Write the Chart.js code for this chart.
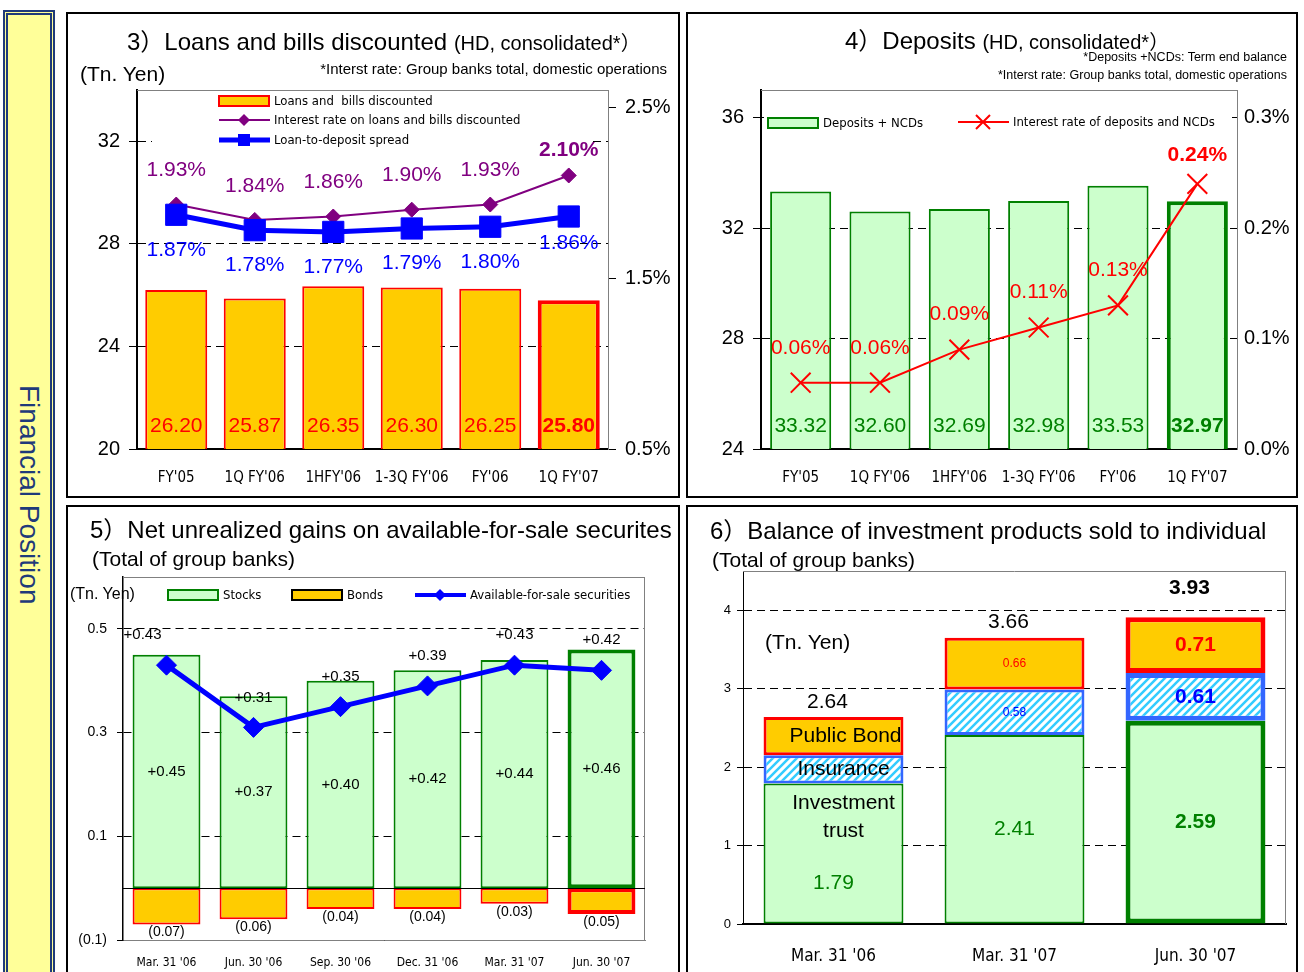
<!DOCTYPE html>
<html>
<head>
<meta charset="utf-8">
<script src="https://cdn.jsdelivr.net/npm/chart.js@4.4.0/dist/chart.umd.min.js"></script>
<style>
body { margin:0; width:1304px; height:972px; overflow:hidden; background:#fff; position:relative;
       font-family:'Liberation Sans','Noto Sans CJK JP',sans-serif; color:#000; }
.abs { position:absolute; white-space:nowrap; line-height:1; z-index:2; }
.panel { position:absolute; border:2px solid #000; box-sizing:border-box; }
canvas { position:absolute; z-index:1; }
#side { position:absolute; left:3px; top:10px; width:52px; height:970px; box-sizing:border-box;
        background:#FFFF99; border:5px double #1F3A7A; display:flex; align-items:center; justify-content:center; }
#side span { writing-mode:vertical-rl; font-size:28px; color:#1F3A7A; }
</style>
</head>
<body>
<div id="side"><span>Financial Position</span></div>

<div class="panel" style="left:66px;top:12px;width:614px;height:486px"></div>
<div class="panel" style="left:686px;top:12px;width:612px;height:486px"></div>
<div class="panel" style="left:66px;top:505px;width:614px;height:480px"></div>
<div class="panel" style="left:686px;top:505px;width:612px;height:480px"></div>

<canvas id="c3" width="610" height="482" style="left:68px;top:14px"></canvas>
<canvas id="c4" width="608" height="482" style="left:688px;top:14px"></canvas>
<canvas id="c5" width="610" height="465" style="left:68px;top:507px"></canvas>
<canvas id="c6" width="608" height="465" style="left:688px;top:507px"></canvas>

<!-- titles -->
<div class="abs" style="left:127px;top:30px;font-size:24px">3）Loans and bills discounted <span style="font-size:20px">(HD, consolidated*）</span></div>
<div class="abs" style="left:80px;top:63px;font-size:21px">(Tn. Yen)</div>
<div class="abs" style="right:637px;top:61px;font-size:15px">*Interst rate: Group banks total, domestic operations</div>

<div class="abs" style="left:845px;top:29px;font-size:24px">4）Deposits <span style="font-size:20px">(HD, consolidated*）</span></div>
<div class="abs" style="right:17px;top:51px;font-size:12.5px">*Deposits +NCDs: Term end balance</div>
<div class="abs" style="right:17px;top:69px;font-size:12.5px">*Interst rate: Group banks total, domestic operations</div>

<div class="abs" style="left:90px;top:518px;font-size:24px">5）Net unrealized gains on available-for-sale securites</div>
<div class="abs" style="left:92px;top:548px;font-size:21px">(Total of group banks)</div>
<div class="abs" style="left:70px;top:586px;font-size:16px">(Tn. Yen)</div>

<div class="abs" style="left:710px;top:519px;font-size:24px">6）Balance of investment products sold to individual</div>
<div class="abs" style="left:712px;top:549px;font-size:21px">(Total of group banks)</div>
<div class="abs" style="left:765px;top:631px;font-size:21px">(Tn. Yen)</div>

<script>
// ---------------- data ----------------
var p3Cats = ["FY'05", "1Q FY'06", "1HFY'06", "1-3Q FY'06", "FY'06", "1Q FY'07"]
var p3Loans = [26.20, 25.87, 26.35, 26.30, 26.25, 25.80]
var p3LoanRate = [1.93, 1.84, 1.86, 1.90, 1.93, 2.10]
var p3Spread = [1.87, 1.78, 1.77, 1.79, 1.80, 1.86]
var p3LeftTicks = [20, 24, 28, 32]
var p3RightTicks = [0.5, 1.5, 2.5]

var p4Cats = ["FY'05", "1Q FY'06", "1HFY'06", "1-3Q FY'06", "FY'06", "1Q FY'07"]
var p4Deposits = [33.32, 32.60, 32.69, 32.98, 33.53, 32.97]
var p4DepRate = [0.06, 0.06, 0.09, 0.11, 0.13, 0.24]
var p4LeftTicks = [24, 28, 32, 36]
var p4RightTicks = [0, 0.1, 0.2, 0.3]

var p5Cats = ["Mar. 31 '06", "Jun. 30 '06", "Sep. 30 '06", "Dec. 31 '06", "Mar. 31 '07", "Jun. 30 '07"]
var p5Stocks = [0.45, 0.37, 0.40, 0.42, 0.44, 0.46]
var p5Bonds = [-0.07, -0.06, -0.04, -0.04, -0.03, -0.05]
var p5Afs = [0.43, 0.31, 0.35, 0.39, 0.43, 0.42]
var p5Ticks = [-0.1, 0.1, 0.3, 0.5]

var p6Cats = ["Mar. 31 '06", "Mar. 31 '07", "Jun. 30 '07"]
var p6Trust = [1.79, 2.41, 2.59]
var p6Insurance = [0.36, 0.58, 0.61]
var p6Bond = [0.49, 0.66, 0.71]
var p6Totals = [2.64, 3.66, 3.93]
var p6Ticks = [0, 1, 2, 3, 4]

// ---------------- styles ----------------
var SANS = "'Liberation Sans', Arial, sans-serif"
var NARROW = "'Liberation Sans Narrow', 'Arial Narrow', 'DejaVu Sans Condensed', sans-serif"
var ORANGE = '#FFCC00', RED = '#FF0000', GREEN = '#008000', LGREEN = '#CCFFCC'
var PURPLE = '#800080', BLUE = '#0000FF'

function pick(v, j) { return Array.isArray(v) ? v[j] : v }
function fix(list) { return function (s) { s.ticks = list.map(function (v) { return { value: v } }) } }

// labels on bars and points
var valueLabels = {
  id: 'valueLabels',
  afterDatasetsDraw: function (chart) {
    var ctx = chart.ctx
    var bottom = chart.chartArea.bottom
    chart.data.datasets.forEach(function (ds, i) {
      if (!ds.lbl) return
      var meta = chart.getDatasetMeta(i)
      var specs = Array.isArray(ds.lbl) ? ds.lbl : [ds.lbl]
      specs.forEach(function (L) {
        var n = meta.data.length
        meta.data.forEach(function (el, j) {
          var txt = L.texts[j]
          if (!txt) return
          var last = j === n - 1
          var bold = pick(L.bold, j) || (L.boldLast && last)
          var place = pick(L.place, j) || 'point'
          var dy = pick(L.dy, j) || 0
          if (L.dyLast !== undefined && last) dy = L.dyLast
          var x = el.x + (pick(L.dx, j) || 0)
          var b = Math.min(el.base, bottom)
          var y
          if (place === 'base') y = b + dy
          else if (place === 'mid') y = (el.y + b) / 2 + dy
          else y = el.y + dy
          var size = pick(L.size, j)
          ctx.save()
          ctx.font = (bold ? 'bold ' : '') + size + 'px ' + SANS
          ctx.fillStyle = pick(L.color, j)
          ctx.textAlign = 'center'
          ctx.textBaseline = 'middle'
          var lines = txt.split('\n')
          lines.forEach(function (s, k) {
            ctx.fillText(s, x, y + (k - (lines.length - 1) / 2) * size * 1.35)
          })
          ctx.restore()
        })
      })
    })
  }
}

function marker(ctx, style, x, y, r, color, lw) {
  ctx.save()
  ctx.fillStyle = color
  ctx.strokeStyle = color
  ctx.lineWidth = lw || 1
  ctx.beginPath()
  if (style === 'rectRot') {
    ctx.moveTo(x - r, y); ctx.lineTo(x, y - r); ctx.lineTo(x + r, y); ctx.lineTo(x, y + r); ctx.closePath(); ctx.fill()
  } else if (style === 'rect') {
    ctx.rect(x - r, y - r, 2 * r, 2 * r); ctx.fill()
  } else {
    ctx.moveTo(x - r, y - r); ctx.lineTo(x + r, y + r); ctx.moveTo(x + r, y - r); ctx.lineTo(x - r, y + r); ctx.stroke()
  }
  ctx.restore()
}

// legend drawn inside the plot, coordinates given on the page
function legend(ox, oy, size, items, bg) {
  return {
    id: 'lgd',
    afterDatasetsDraw: function (chart) {
      var ctx = chart.ctx
      ctx.save()
      ctx.translate(-ox, -oy)
      if (bg) { ctx.fillStyle = '#fff'; ctx.fillRect(bg[0], bg[1], bg[2] - bg[0], bg[3] - bg[1]) }
      items.forEach(function (it) {
        if (it.box) {
          ctx.fillStyle = it.fill
          ctx.fillRect(it.x, it.y - 5, 50, 10)
          ctx.strokeStyle = it.stroke
          ctx.lineWidth = 2
          ctx.strokeRect(it.x, it.y - 5, 50, 10)
        } else {
          ctx.strokeStyle = it.color
          ctx.lineWidth = it.lw
          ctx.beginPath()
          ctx.moveTo(it.x, it.y); ctx.lineTo(it.x + 51, it.y)
          ctx.stroke()
          marker(ctx, it.style, it.x + 25, it.y, it.r, it.color, 2)
        }
        ctx.fillStyle = '#000'
        ctx.font = size + 'px ' + NARROW
        ctx.textBaseline = 'middle'
        ctx.textAlign = 'left'
        ctx.fillText(it.text, it.x + 55, it.y + 1)
      })
      ctx.restore()
    }
  }
}

// gray top / right border of the plot
function frame(right) {
  return {
    id: 'frame',
    beforeDatasetsDraw: function (chart) {
      var a = chart.chartArea, c = chart.ctx
      c.save()
      c.strokeStyle = '#808080'
      c.lineWidth = 1
      c.beginPath()
      c.moveTo(a.left, a.top + 0.5); c.lineTo(a.right, a.top + 0.5)
      if (right) { c.moveTo(a.right - 0.5, a.top); c.lineTo(a.right - 0.5, a.bottom) }
      c.stroke()
      c.restore()
    }
  }
}

function xAxis(size, pad, h) {
  return {
    grid: { display: false, drawTicks: false, tickLength: 0 },
    border: { display: true, color: '#000', width: 2 },
    ticks: { color: '#000', font: { family: NARROW, size: size }, padding: pad, maxRotation: 0, autoSkip: false },
    afterFit: function (s) { s.height = h }
  }
}

function yAxis(pos, min, max, list, w, o) {
  return {
    position: pos, min: min, max: max,
    afterBuildTicks: fix(list),
    grid: { display: true, drawOnChartArea: !!o.grid, color: '#000', lineWidth: 1, drawTicks: o.tl > 0,
            tickLength: o.tl, tickColor: '#000' },
    border: { display: true, color: o.bc || '#000', width: o.bw || 1, dash: [8, 5] },
    ticks: { color: '#000', font: { family: SANS, size: o.fs }, padding: o.pad, callback: o.fmt },
    afterFit: function (s) { s.width = w }
  }
}

var base = {
  responsive: false, animation: false,
  plugins: { legend: { display: false }, tooltip: { enabled: false } }
}
function opts(padding, scales) {
  return Object.assign({}, base, { layout: { padding: padding }, scales: scales })
}
function pct(v) { return v.toFixed(2) + '%' }

// ---------------- 3) Loans ----------------
new Chart(document.getElementById('c3'), {
  data: {
    labels: p3Cats,
    datasets: [
      { type: 'line', data: p3Spread, yAxisID: 'yR', order: 0, tension: 0,
        borderColor: BLUE, borderWidth: 5, backgroundColor: BLUE, pointStyle: 'rect',
        pointRadius: 15, pointBorderWidth: 1,
        lbl: { texts: p3Spread.map(pct), color: BLUE, size: 21, dy: 35, dyLast: 27 } },
      { type: 'line', data: p3LoanRate, yAxisID: 'yR', order: 1, tension: 0,
        borderColor: PURPLE, borderWidth: 2, backgroundColor: PURPLE, pointStyle: 'rectRot',
        pointRadius: 7.5, pointBorderWidth: 1,
        lbl: { texts: p3LoanRate.map(pct), color: PURPLE, size: 21, dy: -34, dyLast: -25, boldLast: true } },
      { type: 'bar', data: p3Loans, yAxisID: 'y', order: 2,
        backgroundColor: ORANGE, borderColor: RED, borderWidth: [2, 2, 2, 2, 2, 4], borderSkipped: false,
        barPercentage: 0.79, categoryPercentage: 1,
        lbl: { texts: p3Loans.map(function (v) { return v.toFixed(2) }), color: RED, size: 21,
               place: 'base', dy: -23, boldLast: true } }
    ]
  },
  options: opts({ top: 76, left: 0, right: 0, bottom: 0 }, {
    x: xAxis(15, 20, 47),
    y: yAxis('left', 20, 34, p3LeftTicks, 69, { grid: true, tl: 8, pad: 9, fs: 20, bw: 2 }),
    yR: yAxis('right', 0.5, 2.6, p3RightTicks, 70, { tl: 8, pad: 9, fs: 20, bc: '#808080',
      fmt: function (v) { return v.toFixed(1) + '%' } })
  }),
  plugins: [frame(false),
    legend(68, 14, 13, [
      { box: true, x: 219, y: 101, fill: ORANGE, stroke: RED, text: 'Loans and  bills discounted' },
      { x: 219, y: 120, color: PURPLE, lw: 2, style: 'rectRot', r: 6, text: 'Interest rate on loans and bills discounted' },
      { x: 219, y: 140, color: BLUE, lw: 5, style: 'rect', r: 6, text: 'Loan-to-deposit spread' }
    ], [152, 93, 592, 150]),
    valueLabels]
})

// ---------------- 4) Deposits ----------------
new Chart(document.getElementById('c4'), {
  data: {
    labels: p4Cats,
    datasets: [
      { type: 'line', data: p4DepRate, yAxisID: 'yR', order: 0, tension: 0,
        borderColor: RED, borderWidth: 2, backgroundColor: RED, pointStyle: 'crossRot',
        pointRadius: 14, pointBorderWidth: 2,
        lbl: { texts: p4DepRate.map(pct), color: RED, size: 21, dy: -35, dyLast: -29, boldLast: true } },
      { type: 'bar', data: p4Deposits, yAxisID: 'y', order: 1,
        backgroundColor: LGREEN, borderColor: GREEN, borderWidth: [2, 2, 2, 2, 2, 4], borderSkipped: false,
        barPercentage: 0.77, categoryPercentage: 1,
        lbl: { texts: p4Deposits.map(function (v) { return v.toFixed(2) }), color: GREEN, size: 21,
               place: 'base', dy: -23, boldLast: true } }
    ]
  },
  options: opts({ top: 76, left: 0, right: 0, bottom: 0 }, {
    x: xAxis(15, 20, 47),
    y: yAxis('left', 24, 37, p4LeftTicks, 73, { grid: true, tl: 8, pad: 9, fs: 20, bw: 2 }),
    yR: yAxis('right', 0, 0.325, p4RightTicks, 59, { tl: 0, pad: 7, fs: 20, bc: '#808080',
      fmt: function (v) { return v.toFixed(1) + '%' } })
  }),
  plugins: [frame(false),
    legend(688, 14, 13, [
      { box: true, x: 768, y: 123, fill: LGREEN, stroke: GREEN, text: 'Deposits + NCDs' },
      { x: 958, y: 122, color: RED, lw: 2, style: 'crossRot', r: 7, text: 'Interest rate of deposits and NCDs' }
    ], [764, 108, 1232, 133]),
    valueLabels]
})

// ---------------- 5) Net unrealized gains ----------------
var zeroLine = {
  id: 'zero',
  afterDatasetsDraw: function (chart) {
    var a = chart.chartArea, c = chart.ctx
    var y = Math.round(chart.scales.y.getPixelForValue(0)) + 0.5
    c.save()
    c.strokeStyle = '#000'
    c.lineWidth = 1
    c.beginPath(); c.moveTo(a.left, y); c.lineTo(a.right, y); c.stroke()
    c.restore()
  }
}
new Chart(document.getElementById('c5'), {
  data: {
    labels: p5Cats,
    datasets: [
      { type: 'line', data: p5Afs, stack: 'afs', order: 0, tension: 0,
        borderColor: BLUE, borderWidth: 5, backgroundColor: BLUE, pointStyle: 'rectRot',
        pointRadius: 10, pointBorderWidth: 1,
        lbl: { texts: p5Afs.map(function (v) { return '+' + v.toFixed(2) }), color: '#000', size: 15,
               dy: -30, dx: [-24, 0, 0, 0, 0, 0] } },
      { type: 'bar', data: p5Stocks, stack: 'sec', order: 1,
        backgroundColor: LGREEN, borderColor: GREEN, borderWidth: [2, 2, 2, 2, 2, 4], borderSkipped: false,
        barPercentage: 0.78, categoryPercentage: 1,
        lbl: { texts: p5Stocks.map(function (v) { return '+' + v.toFixed(2) }), color: '#000', size: 15, place: 'mid' } },
      { type: 'bar', data: p5Bonds, stack: 'sec', order: 1,
        backgroundColor: ORANGE, borderColor: RED, borderWidth: [2, 2, 2, 2, 2, 4], borderSkipped: false,
        barPercentage: 0.78, categoryPercentage: 1,
        lbl: { texts: p5Bonds.map(function (v) { return '(' + Math.abs(v).toFixed(2) + ')' }), color: '#000', size: 14, dy: 8 } }
    ]
  },
  options: opts({ top: 70, left: 0, right: 33, bottom: 0 }, {
    x: Object.assign(xAxis(12, 16, 32), { stacked: true, border: { display: true, color: '#808080', width: 1 } }),
    y: Object.assign(yAxis('left', -0.1, 0.6, p5Ticks, 55, { grid: true, tl: 6, pad: 10, fs: 14, bw: 1.5,
      fmt: function (v) { return v < 0 ? '(' + Math.abs(v).toFixed(1) + ')' : v.toFixed(1) } }), { stacked: true })
  }),
  plugins: [frame(true), zeroLine,
    legend(68, 507, 13, [
      { box: true, x: 168, y: 595, fill: LGREEN, stroke: GREEN, text: 'Stocks' },
      { box: true, x: 292, y: 595, fill: ORANGE, stroke: '#000', text: 'Bonds' },
      { x: 415, y: 595, color: BLUE, lw: 4, style: 'rectRot', r: 6, text: 'Available-for-sale securities' }
    ]),
    valueLabels]
})

// ---------------- 6) Investment products ----------------
var cv6 = document.getElementById('c6')
function hatch(ctx) {
  var c = document.createElement('canvas')
  c.width = 8; c.height = 8
  var g = c.getContext('2d')
  g.fillStyle = '#fff'; g.fillRect(0, 0, 8, 8)
  g.strokeStyle = '#33CCFF'; g.lineWidth = 2.5
  g.beginPath()
  g.moveTo(0, 8); g.lineTo(8, 0)
  g.moveTo(-4, 4); g.lineTo(4, -4)
  g.moveTo(4, 12); g.lineTo(12, 4)
  g.stroke()
  return ctx.createPattern(c, 'repeat')
}
new Chart(cv6, {
  type: 'bar',
  data: {
    labels: p6Cats,
    datasets: [
      { data: p6Trust, backgroundColor: LGREEN, borderColor: GREEN, borderWidth: [2, 2, 5], borderSkipped: false,
        barPercentage: 0.773, categoryPercentage: 1,
        lbl: [
          { texts: p6Trust.map(function (v) { return v.toFixed(2) }), color: GREEN, size: 21,
            bold: [false, false, true], place: ['base', 'mid', 'mid'], dy: [-40, 0, 0] },
          { texts: ['Investment\ntrust', '', ''], color: '#000', size: 21, place: 'base', dy: -106, dx: 10 }
        ] },
      { data: p6Insurance, backgroundColor: hatch(cv6.getContext('2d')), borderColor: '#3366FF',
        borderWidth: [3, 3, 5], borderSkipped: false, barPercentage: 0.773, categoryPercentage: 1,
        lbl: { texts: ['Insurance', p6Insurance[1].toFixed(2), p6Insurance[2].toFixed(2)],
               color: ['#000', BLUE, BLUE], size: [21, 12, 21], bold: [false, false, true], place: 'mid', dx: [10, 0, 0] } },
      { data: p6Bond, backgroundColor: ORANGE, borderColor: RED,
        borderWidth: [3, 3, 5], borderSkipped: false, barPercentage: 0.773, categoryPercentage: 1,
        lbl: [
          { texts: ['Public Bond', p6Bond[1].toFixed(2), p6Bond[2].toFixed(2)],
            color: ['#000', RED, RED], size: [21, 12, 21], bold: [false, false, true], place: 'mid', dx: [12, 0, 0] },
          { texts: p6Totals.map(function (v) { return v.toFixed(2) }), color: '#000', size: 21,
            bold: [false, false, true], dy: [-15, -15, -29], dx: -6 }
        ] }
    ]
  },
  options: opts({ top: 64, left: 0, right: 10, bottom: 0 }, {
    x: Object.assign(xAxis(17, 22, 48), { stacked: true }),
    y: Object.assign(yAxis('left', 0, 4.5, p6Ticks, 55, { grid: true, tl: 6, pad: 6, fs: 13 }), { stacked: true })
  }),
  plugins: [frame(true), valueLabels]
})
</script>
</body>
</html>
